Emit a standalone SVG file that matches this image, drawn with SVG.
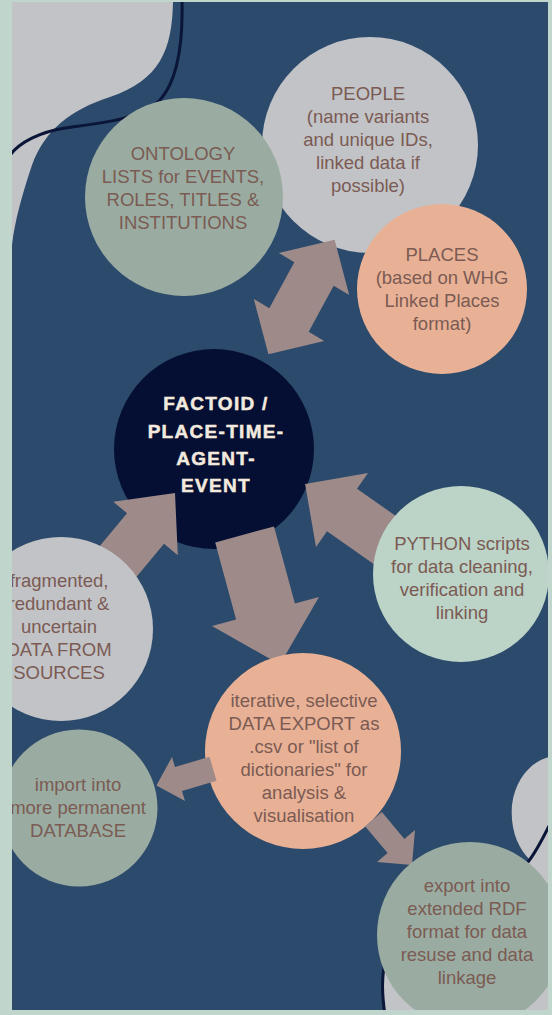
<svg xmlns="http://www.w3.org/2000/svg" width="552" height="1015" viewBox="0 0 552 1015">
<style>
.lbl{font-family:"Liberation Sans",Arial,sans-serif;font-size:18.5px;fill:#7b5b53;text-anchor:middle}
.ctr{font-family:"Liberation Sans",Arial,sans-serif;font-size:19px;font-weight:bold;fill:#f3eadf;stroke:#f3eadf;stroke-width:0.5;text-anchor:middle;letter-spacing:1.3px}
.arrow{fill:#9d8a89}
.grey{fill:#c2c3c7}
.sage{fill:#9aaca1}
.peach{fill:#e8b196}
.mint{fill:#bcd3c7}
.line{fill:none;stroke:#0a1538;stroke-width:3}
</style>
<rect x="0" y="0" width="552" height="1015" fill="#2c4a6b"/>
<g id="decor">
<path class="grey" d="M12,2 L173,2 C172,50 160,80 110,97 C70,110 45,130 32,165 C22,195 15,220 12,245 Z"/>
<path class="line" d="M182,0 C183,40 178,80 160,100 C140,120 100,123 65,128 C40,132 20,142 10,155"/>
<path class="grey" d="M549,757 C530,762 515,780 512,805 C510,830 518,848 530,860 C470,900 400,935 386,960 C381,975 382,995 384,1015 L552,1015 L552,757 Z"/>
<path class="line" d="M549,826 C542,840 536,852 528,862 C470,900 400,932 386,960 C381,975 382,995 385,1015"/>
</g>
<g id="people">
<circle class="grey" cx="370" cy="145" r="108"/>
<text class="lbl" x="368" y="100">PEOPLE</text>
<text class="lbl" x="368" y="123">(name variants</text>
<text class="lbl" x="368" y="146">and unique IDs,</text>
<text class="lbl" x="368" y="169">linked data if</text>
<text class="lbl" x="368" y="192">possible)</text>
</g>
<g id="ontology">
<circle class="sage" cx="184" cy="197" r="99"/>
<text class="lbl" x="183" y="160">ONTOLOGY</text>
<text class="lbl" x="183" y="183">LISTS for EVENTS,</text>
<text class="lbl" x="183" y="206">ROLES, TITLES &amp;</text>
<text class="lbl" x="183" y="229">INSTITUTIONS</text>
</g>
<g id="places">
<circle class="peach" cx="442" cy="289" r="85"/>
<text class="lbl" x="442" y="261">PLACES</text>
<text class="lbl" x="442" y="284">(based on WHG</text>
<text class="lbl" x="442" y="307">Linked Places</text>
<text class="lbl" x="442" y="330">format)</text>
</g>
<g id="connectors-back">
<polygon class="arrow" points="334.6,239.7 349.2,295.1 333.7,285.8 308.7,331.8 324.2,341.1 268.4,354.3 253.8,298.9 269.3,308.2 294.3,262.2 278.8,252.9"/>
</g>
<g id="factoid">
<circle cx="214" cy="449" r="100" fill="#050f33"/>
<text class="ctr" x="216" y="410">FACTOID /</text>
<text class="ctr" x="216" y="438">PLACE-TIME-</text>
<text class="ctr" x="216" y="465">AGENT-</text>
<text class="ctr" x="216" y="492">EVENT</text>
</g>
<g id="connectors">
<polygon class="arrow" points="175,493 177.8,555.3 164,543.8 112.9,605.3 75.9,574.7 127,513.2 113.2,501.7"/>
<polygon class="arrow" points="215.2,542.4 274,526.4 294.9,603.5 319,597 279.9,664.5 212,626 236.1,619.5"/>
<polygon class="arrow" points="305.1,484.1 368,473 357,488.7 430.7,540.5 400.7,583.1 327,531.3 316,547"/>
</g>
<g id="sources">
<circle class="grey" cx="61" cy="629" r="92"/>
<text class="lbl" x="59" y="587">fragmented,</text>
<text class="lbl" x="59" y="610">redundant &amp;</text>
<text class="lbl" x="59" y="633">uncertain</text>
<text class="lbl" x="59" y="656">DATA FROM</text>
<text class="lbl" x="59" y="679">SOURCES</text>
</g>
<g id="python">
<circle class="mint" cx="461" cy="574" r="88"/>
<text class="lbl" x="462" y="550">PYTHON scripts</text>
<text class="lbl" x="462" y="573">for data cleaning,</text>
<text class="lbl" x="462" y="596">verification and</text>
<text class="lbl" x="462" y="619">linking</text>
</g>
<g id="export">
<circle class="peach" cx="303" cy="751" r="98"/>
<text class="lbl" x="304" y="707">iterative, selective</text>
<text class="lbl" x="304" y="730">DATA EXPORT as</text>
<text class="lbl" x="304" y="753">.csv or "list of</text>
<text class="lbl" x="304" y="776">dictionaries" for</text>
<text class="lbl" x="304" y="799">analysis &amp;</text>
<text class="lbl" x="304" y="822">visualisation</text>
</g>
<g id="connectors-front">
<polygon class="arrow" points="209.5,756.8 216.5,780.8 182,791 185,801 156.4,785.5 172,757 175,767"/>
<polygon class="arrow" points="381.9,812.1 404.4,838.9 415,830 412,865 377,862 387.6,853.1 365.1,826.3"/>
</g>
<g id="database">
<circle class="sage" cx="79" cy="808" r="78.5"/>
<text class="lbl" x="78" y="791">import into</text>
<text class="lbl" x="78" y="814">more permanent</text>
<text class="lbl" x="78" y="837">DATABASE</text>
</g>
<g id="rdf">
<circle class="sage" cx="470" cy="935" r="93"/>
<text class="lbl" x="467" y="892">export into</text>
<text class="lbl" x="467" y="915">extended RDF</text>
<text class="lbl" x="467" y="938">format for data</text>
<text class="lbl" x="467" y="961">resuse and data</text>
<text class="lbl" x="467" y="984">linkage</text>
</g>
<path id="frame" fill="#c0d5cb" fill-rule="evenodd" d="M0,0 H552 V1015 H0 Z M12,2 V1010 H548 V2 Z"/>
</svg>
